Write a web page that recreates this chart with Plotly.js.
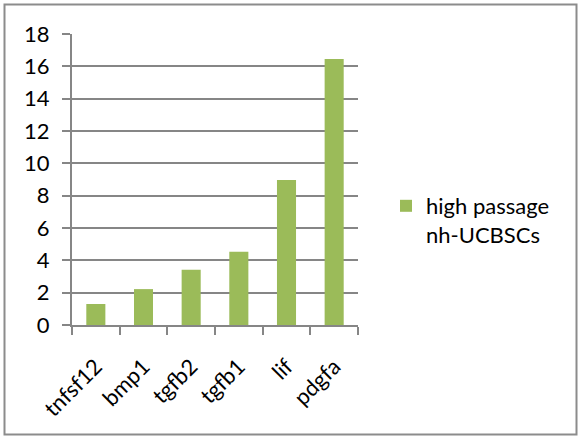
<!DOCTYPE html>
<html>
<head>
<meta charset="utf-8">
<script src="https://cdn.plot.ly/plotly-3.0.1.min.js"></script>
<style>
  html, body { margin: 0; padding: 0; background: #ffffff; }
  #chart { width: 581px; height: 438px; }
</style>
</head>
<body>
<div id="chart"></div>
<script>
const categories = ["tnfsf12", "bmp1", "tgfb2", "tgfb1", "lif", "pdgfa"];
const values = [1.30, 2.22, 3.42, 4.53, 8.97, 16.45];
const seriesName = "high passage<br>nh-UCBSCs";
const yTicks = [0, 2, 4, 6, 8, 10, 12, 14, 16, 18];

const green = "#9BBB59";
const gridGray = "#868686";
const fontFam = "Lato, 'Liberation Sans', sans-serif";
const fs = 22;

const trace = {
  type: "bar",
  x: categories,
  y: values,
  name: seriesName,
  marker: { color: green },
  showlegend: true
};

const L = 72, R = 358, T = 34, B = 325;
const W = 581, H = 438;
const pw = R - L, ph = B - T;

const layout = {
  width: W,
  height: H,
  margin: { l: L, r: W - R, t: T, b: H - B, pad: 0 },
  paper_bgcolor: "#ffffff",
  plot_bgcolor: "#ffffff",
  font: { family: fontFam, size: fs, color: "#000000" },
  bargap: 0.6,
  showlegend: true,
  xaxis: {
    type: "category",
    showgrid: false,
    showline: true,
    linecolor: gridGray,
    linewidth: 2,
    ticks: "outside",
    tickson: "boundaries",
    ticklen: 8,
    tickwidth: 2,
    tickcolor: gridGray,
    tickangle: -45,
    ticklabelstandoff: 18,
    tickfont: { family: fontFam, size: fs, color: "#000000" },
    zeroline: false
  },
  yaxis: {
    range: [0, 18],
    tickvals: yTicks,
    ticktext: yTicks.map(String),
    showgrid: true,
    gridcolor: gridGray,
    gridwidth: 2,
    showline: true,
    linecolor: gridGray,
    linewidth: 2,
    ticks: "outside",
    ticklen: 8,
    tickwidth: 2,
    tickcolor: gridGray,
    ticklabelstandoff: 8,
    tickfont: { family: fontFam, size: fs, color: "#000000" },
    zeroline: false
  },
  legend: {
    x: (386 - L) / pw,
    xanchor: "left",
    y: 1 - (185 - T) / ph,
    yanchor: "top",
    valign: "top",
    bgcolor: "rgba(0,0,0,0)",
    borderwidth: 0,
    font: { family: fontFam, size: fs, color: "#000000" }
  },
  shapes: [{
    type: "rect",
    xref: "paper",
    yref: "paper",
    x0: (4.5 - L) / pw,
    x1: (576.5 - L) / pw,
    y0: -(434.5 - B) / ph,
    y1: 1 + (T - 4.5) / ph,
    line: { color: "#8c8c8c", width: 2 },
    fillcolor: "rgba(0,0,0,0)",
    layer: "below"
  }]
};

Plotly.newPlot("chart", [trace], layout, { displayModeBar: false, staticPlot: true });
</script>
</body>
</html>
